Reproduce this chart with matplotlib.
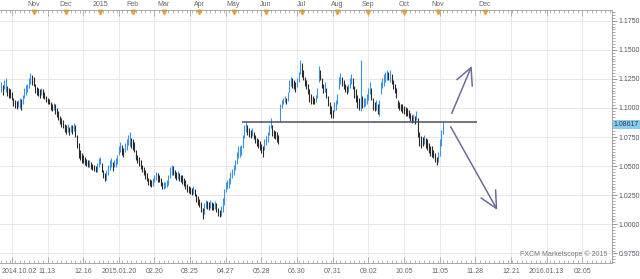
# -*- coding: utf-8 -*-
"""
Daily price bars with support line and two scenario arrows
"""

#%% Importing the necessary Python packages
import numpy as np # vectorized calculations
import matplotlib
matplotlib.use('Agg')
import matplotlib.pyplot as plt # plotting
from matplotlib.ticker import MultipleLocator, FormatStrFormatter

#%% Data (one entry per daily bar)
highs = [1.122, 1.120, 1.124, 1.126, 1.119, 1.117, 1.116, 1.114, 1.109, 1.107,
         1.106, 1.107, 1.109, 1.108, 1.111, 1.117, 1.120, 1.121, 1.126, 1.130,
         1.128, 1.127, 1.121, 1.118, 1.117, 1.116, 1.117, 1.116, 1.114, 1.110,
         1.109, 1.108, 1.105, 1.103, 1.104, 1.103, 1.100, 1.097, 1.093, 1.091,
         1.090, 1.086, 1.085, 1.086, 1.084, 1.085, 1.085, 1.087, 1.085, 1.077,
         1.070, 1.064, 1.061, 1.060, 1.058, 1.056, 1.055, 1.055, 1.054, 1.052,
         1.051, 1.050, 1.053, 1.057, 1.058, 1.053, 1.047, 1.044, 1.047, 1.051,
         1.055, 1.057, 1.054, 1.055, 1.057, 1.060, 1.067, 1.071, 1.068, 1.066,
         1.070, 1.073, 1.077, 1.079, 1.074, 1.073, 1.071, 1.064, 1.060, 1.058,
         1.055, 1.051, 1.049, 1.047, 1.044, 1.040, 1.039, 1.038, 1.040, 1.042,
         1.045, 1.044, 1.042, 1.040, 1.036, 1.036, 1.036, 1.038, 1.042, 1.049,
         1.051, 1.050, 1.047, 1.045, 1.046, 1.044, 1.042, 1.042, 1.040, 1.038,
         1.035, 1.033, 1.032, 1.031, 1.033, 1.030, 1.026, 1.024, 1.022, 1.019,
         1.014, 1.018, 1.021, 1.020, 1.019, 1.021, 1.019, 1.018, 1.020, 1.018,
         1.014, 1.012, 1.016, 1.023, 1.030, 1.036, 1.038, 1.040, 1.045, 1.048,
         1.051, 1.055, 1.062, 1.067, 1.067, 1.068, 1.077, 1.085, 1.088, 1.085,
         1.083, 1.081, 1.083, 1.079, 1.077, 1.074, 1.073, 1.072, 1.069, 1.067,
         1.073, 1.076, 1.079, 1.085, 1.091, 1.085, 1.081, 1.080, 1.079, 1.077,
         1.103, 1.107, 1.109, 1.110, 1.109, 1.114, 1.124, 1.127, 1.126, 1.124,
         1.122, 1.126, 1.131, 1.141, 1.139, 1.133, 1.127, 1.124, 1.121, 1.116,
         1.112, 1.110, 1.109, 1.111, 1.117, 1.136, 1.133, 1.126, 1.121, 1.122,
         1.117, 1.110, 1.105, 1.102, 1.098, 1.105, 1.107, 1.112, 1.127, 1.130,
         1.127, 1.124, 1.121, 1.119, 1.121, 1.126, 1.129, 1.126, 1.119, 1.116,
         1.111, 1.109, 1.141, 1.110, 1.109, 1.109, 1.112, 1.117, 1.122, 1.117,
         1.109, 1.105, 1.107, 1.103, 1.107, 1.122, 1.126, 1.129, 1.131, 1.133,
         1.131, 1.133, 1.129, 1.124, 1.121, 1.117, 1.107, 1.105, 1.103, 1.103,
         1.102, 1.101, 1.100, 1.098, 1.096, 1.094, 1.095, 1.093, 1.097, 1.091,
         1.079, 1.076, 1.075, 1.077, 1.074, 1.073, 1.070, 1.067, 1.067, 1.064,
         1.061, 1.058, 1.062, 1.073, 1.081, 1.088]

lows = [1.114, 1.111, 1.116, 1.114, 1.110, 1.109, 1.109, 1.107, 1.102, 1.100,
        1.099, 1.101, 1.100, 1.098, 1.103, 1.109, 1.111, 1.114, 1.117, 1.121,
        1.120, 1.119, 1.113, 1.111, 1.110, 1.109, 1.111, 1.109, 1.108, 1.105,
        1.103, 1.103, 1.098, 1.097, 1.098, 1.095, 1.092, 1.090, 1.086, 1.084,
        1.083, 1.079, 1.078, 1.079, 1.077, 1.079, 1.078, 1.080, 1.075, 1.066,
        1.057, 1.055, 1.053, 1.053, 1.051, 1.050, 1.049, 1.049, 1.048, 1.047,
        1.046, 1.045, 1.045, 1.049, 1.052, 1.045, 1.040, 1.037, 1.038, 1.042,
        1.047, 1.049, 1.046, 1.049, 1.049, 1.052, 1.060, 1.062, 1.060, 1.058,
        1.062, 1.064, 1.068, 1.067, 1.066, 1.064, 1.062, 1.055, 1.053, 1.050,
        1.048, 1.045, 1.042, 1.039, 1.037, 1.034, 1.033, 1.032, 1.033, 1.036,
        1.038, 1.036, 1.036, 1.033, 1.030, 1.030, 1.031, 1.032, 1.034, 1.040,
        1.042, 1.042, 1.040, 1.038, 1.039, 1.037, 1.036, 1.035, 1.033, 1.030,
        1.028, 1.027, 1.026, 1.025, 1.026, 1.024, 1.019, 1.017, 1.015, 1.011,
        1.005, 1.009, 1.014, 1.013, 1.012, 1.014, 1.012, 1.012, 1.013, 1.011,
        1.007, 1.006, 1.007, 1.011, 1.017, 1.028, 1.030, 1.031, 1.035, 1.040,
        1.042, 1.047, 1.052, 1.057, 1.058, 1.060, 1.066, 1.074, 1.079, 1.077,
        1.075, 1.074, 1.076, 1.073, 1.070, 1.067, 1.066, 1.064, 1.061, 1.058,
        1.064, 1.068, 1.071, 1.077, 1.083, 1.076, 1.074, 1.073, 1.071, 1.069,
        1.088, 1.100, 1.103, 1.105, 1.103, 1.106, 1.114, 1.119, 1.117, 1.116,
        1.114, 1.118, 1.122, 1.129, 1.127, 1.124, 1.119, 1.116, 1.112, 1.105,
        1.103, 1.103, 1.103, 1.105, 1.109, 1.122, 1.124, 1.117, 1.113, 1.114,
        1.109, 1.102, 1.095, 1.091, 1.091, 1.097, 1.098, 1.103, 1.116, 1.121,
        1.119, 1.116, 1.114, 1.112, 1.114, 1.117, 1.121, 1.116, 1.109, 1.105,
        1.100, 1.098, 1.097, 1.100, 1.101, 1.102, 1.103, 1.107, 1.112, 1.107,
        1.098, 1.097, 1.098, 1.095, 1.093, 1.112, 1.117, 1.119, 1.122, 1.124,
        1.124, 1.122, 1.121, 1.116, 1.113, 1.109, 1.100, 1.098, 1.097, 1.096,
        1.095, 1.093, 1.093, 1.091, 1.089, 1.087, 1.088, 1.086, 1.090, 1.075,
        1.067, 1.066, 1.067, 1.069, 1.066, 1.064, 1.061, 1.059, 1.058, 1.057,
        1.054, 1.051, 1.054, 1.059, 1.067, 1.078]

lastPrice = 1.08617
supportLevel = 1.088
supportStart, supportEnd = 155.5, 307 # bar index span of the drawn line

dateLabels = ['2014.10.02', '11.13', '12.16', '2015.01.20', '02.20', '03.25',
              '04.27', '05.28', '06.30', '07.31', '09.02', '10.05', '11.05',
              '11.28', '12.21', '2016.01.13', '02.05']
datePos = [7 + 23*k for k in range(len(dateLabels))] # every 23rd bar

monthLabels = ['Nov', 'Dec', '2015', 'Feb', 'Mar', 'Apr', 'May', 'Jun', 'Jul',
               'Aug', 'Sep', 'Oct', 'Nov', 'Dec']
monthPos = [21, 42, 64, 85, 105, 128, 150, 171, 194, 217, 237, 260, 282, 312]

# scenario arrows (bar index, price)
arrowUp = ((290.8, 1.0954), (303.7, 1.1361))
arrowDown = ((290.1, 1.0839), (320.2, 1.0124))

#%% Plot
plt.rcParams['font.family'] = ['Liberation Sans', 'DejaVu Sans']
fig = plt.figure(figsize=(6.4, 2.79), dpi=100)
ax = fig.add_axes([0.0, 16/279, 612/640, 253/279])

hi = np.array(highs)
lo = np.array(lows)
idx = np.arange(len(hi))
mid = (hi + lo)/2
up = np.r_[True, mid[1:] >= mid[:-1]]

ax.vlines(idx[up], lo[up], hi[up], color='#3a93e8', lw=0.8)
ax.vlines(idx[~up], lo[~up], hi[~up], color='#2a2a2a', lw=0.8)

ax.hlines(supportLevel, supportStart, supportEnd, color='#4c5068', lw=1.1)

for (x0, y0), (x1, y1) in [arrowUp, arrowDown]:
    ax.annotate('', xy=(x1, y1), xytext=(x0, y0),
                arrowprops=dict(arrowstyle='->,head_length=1.0,head_width=0.5',
                                color='#6a6e96', lw=1.1, mutation_scale=12,
                                shrinkA=0, shrinkB=0))

ax.set_xlim(-0.65, 394.2)
ax.set_ylim(0.9668, 1.1842)

# axes and rulers
ax.yaxis.tick_right()
ax.yaxis.set_major_locator(MultipleLocator(0.025))
ax.yaxis.set_minor_locator(MultipleLocator(0.0025))
ax.yaxis.set_major_formatter(FormatStrFormatter('%.4f'))
ax.tick_params(axis='y', which='major', length=3.5, width=0.6, color='#888888',
               labelsize=5, labelcolor='#555566', pad=1.2)
ax.tick_params(axis='y', which='minor', length=1.8, width=0.5, color='#888888')

ax.set_xticks(datePos)
ax.xaxis.set_minor_locator(MultipleLocator(3))
ax.tick_params(axis='x', which='both', direction='in', top=True, bottom=True,
               labelbottom=False, color='#999999', width=0.5)
ax.tick_params(axis='x', which='major', length=4)
ax.tick_params(axis='x', which='minor', length=2)

ax.grid(True, which='major', color='#e8e8e8', lw=0.7)
ax.set_axisbelow(True)
for side in ['top', 'bottom', 'right']:
    ax.spines[side].set_color('#9a9a9a')
    ax.spines[side].set_linewidth(0.6)
ax.spines['left'].set_visible(False)

xt = ax.get_xaxis_transform()
for i, (p, s) in enumerate(zip(datePos, dateLabels)):
    if i == 0:
        ax.text(0.002, -0.032, s, transform=ax.transAxes, ha='left', va='center',
                fontsize=5, color='#666666')
    else:
        ax.text(p, -0.032, s, transform=xt, ha='center', va='center',
                fontsize=5, color='#666666', clip_on=False)

for p, s in zip(monthPos, monthLabels):
    ax.text(p, 1.022, s, transform=xt, ha='center', va='center', fontsize=5,
            color='#666666', clip_on=False)
    ax.plot(p, 0.992, marker='v', ms=3.2, color='#f0a028', mec='#f0a028',
            transform=xt, clip_on=False)

# last price tag
ax.text(1.003, lastPrice, '%.5f' % lastPrice, transform=ax.get_yaxis_transform(),
        ha='left', va='center', fontsize=5, color='#333344', clip_on=False,
        bbox=dict(boxstyle='square,pad=0.15', fc='#86cff2', ec='none'))

ax.text(0.993, 0.018, 'FXCM Marketscope \u00a9 2015', transform=ax.transAxes,
        ha='right', va='bottom', fontsize=5, color='#777777')

fig.savefig('out.png', dpi=100, facecolor='white')
